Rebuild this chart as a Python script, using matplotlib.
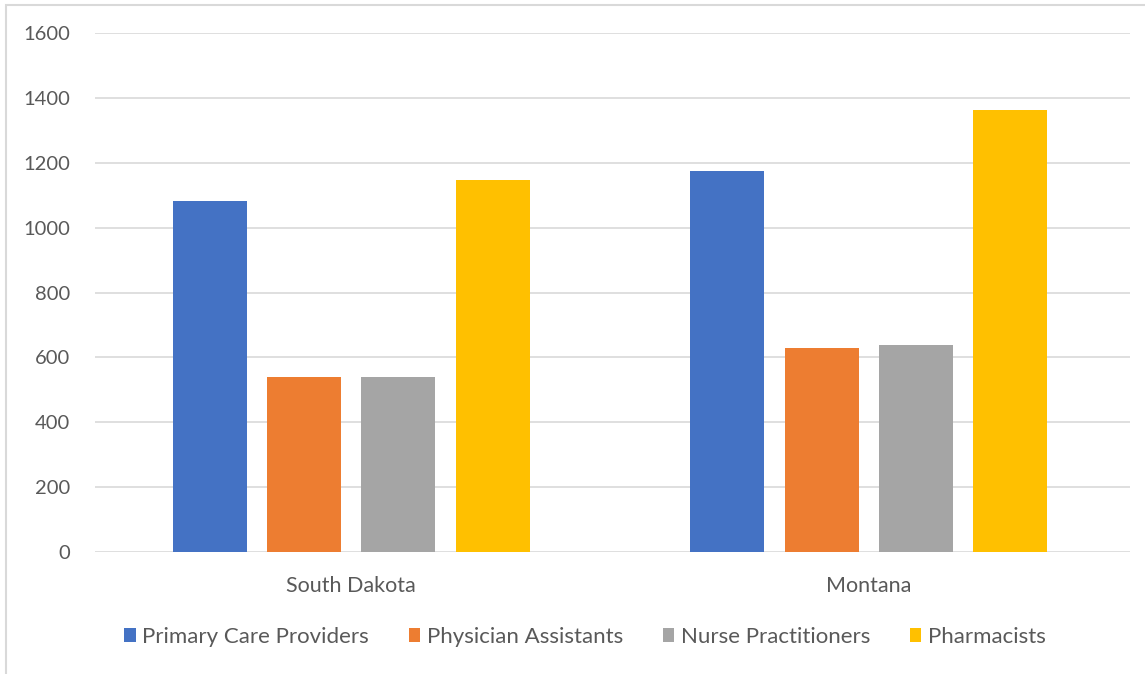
import numpy as np
import matplotlib.pyplot as plt
from matplotlib.patches import Rectangle

states = ['South Dakota', 'Montana']
series = ['Primary Care Providers', 'Physician Assistants',
          'Nurse Practitioners', 'Pharmacists']
primary_care = [1081, 1174]
physician_assistants = [539, 630]
nurse_practitioners = [539, 637]
pharmacists = [1148, 1362]
colors = ['#4472C4', '#ED7D31', '#A5A5A5', '#FFC000']

values = [primary_care, physician_assistants, nurse_practitioners, pharmacists]

plt.rcParams['font.family'] = ['Lato', 'DejaVu Sans']

fig = plt.figure(figsize=(11.45, 6.74), dpi=100)
ax = fig.add_axes([0.083, 0.181, 0.904, 0.770])

x = np.arange(len(states))
step = 0.182
width = 0.143
for i, (name, vals) in enumerate(zip(series, values)):
    ax.bar(x + (i - 1.5) * step, vals, width, color=colors[i], label=name,
           zorder=3)

ax.set_xlim(-0.495, 1.505)
ax.set_ylim(0, 1600)
ax.set_yticks(np.arange(0, 1601, 200))
ax.set_xticks(x)
ax.set_xticklabels(states, fontsize=15.5)
ax.grid(axis='y', color='#d9d9d9', linewidth=1.2, zorder=0)
for s in ax.spines.values():
    s.set_visible(False)
ax.tick_params(axis='both', length=0, colors='#595959')
ax.tick_params(axis='y', pad=18, labelsize=14.5)
ax.tick_params(axis='x', pad=17)

fig.legend(loc='center', bbox_to_anchor=(0.511, 0.055), ncol=4, frameon=False,
           fontsize=16, labelcolor='#595959', handlelength=0.5,
           handleheight=0.55, handletextpad=0.3, columnspacing=1.8)

fig.patches.append(Rectangle((6 / 1145, -0.01), 1.1, 1 - 5 / 674 + 0.01,
                             transform=fig.transFigure, fill=False,
                             edgecolor='#d9d9d9', linewidth=1.5))

fig.savefig('out.png', dpi=100)
